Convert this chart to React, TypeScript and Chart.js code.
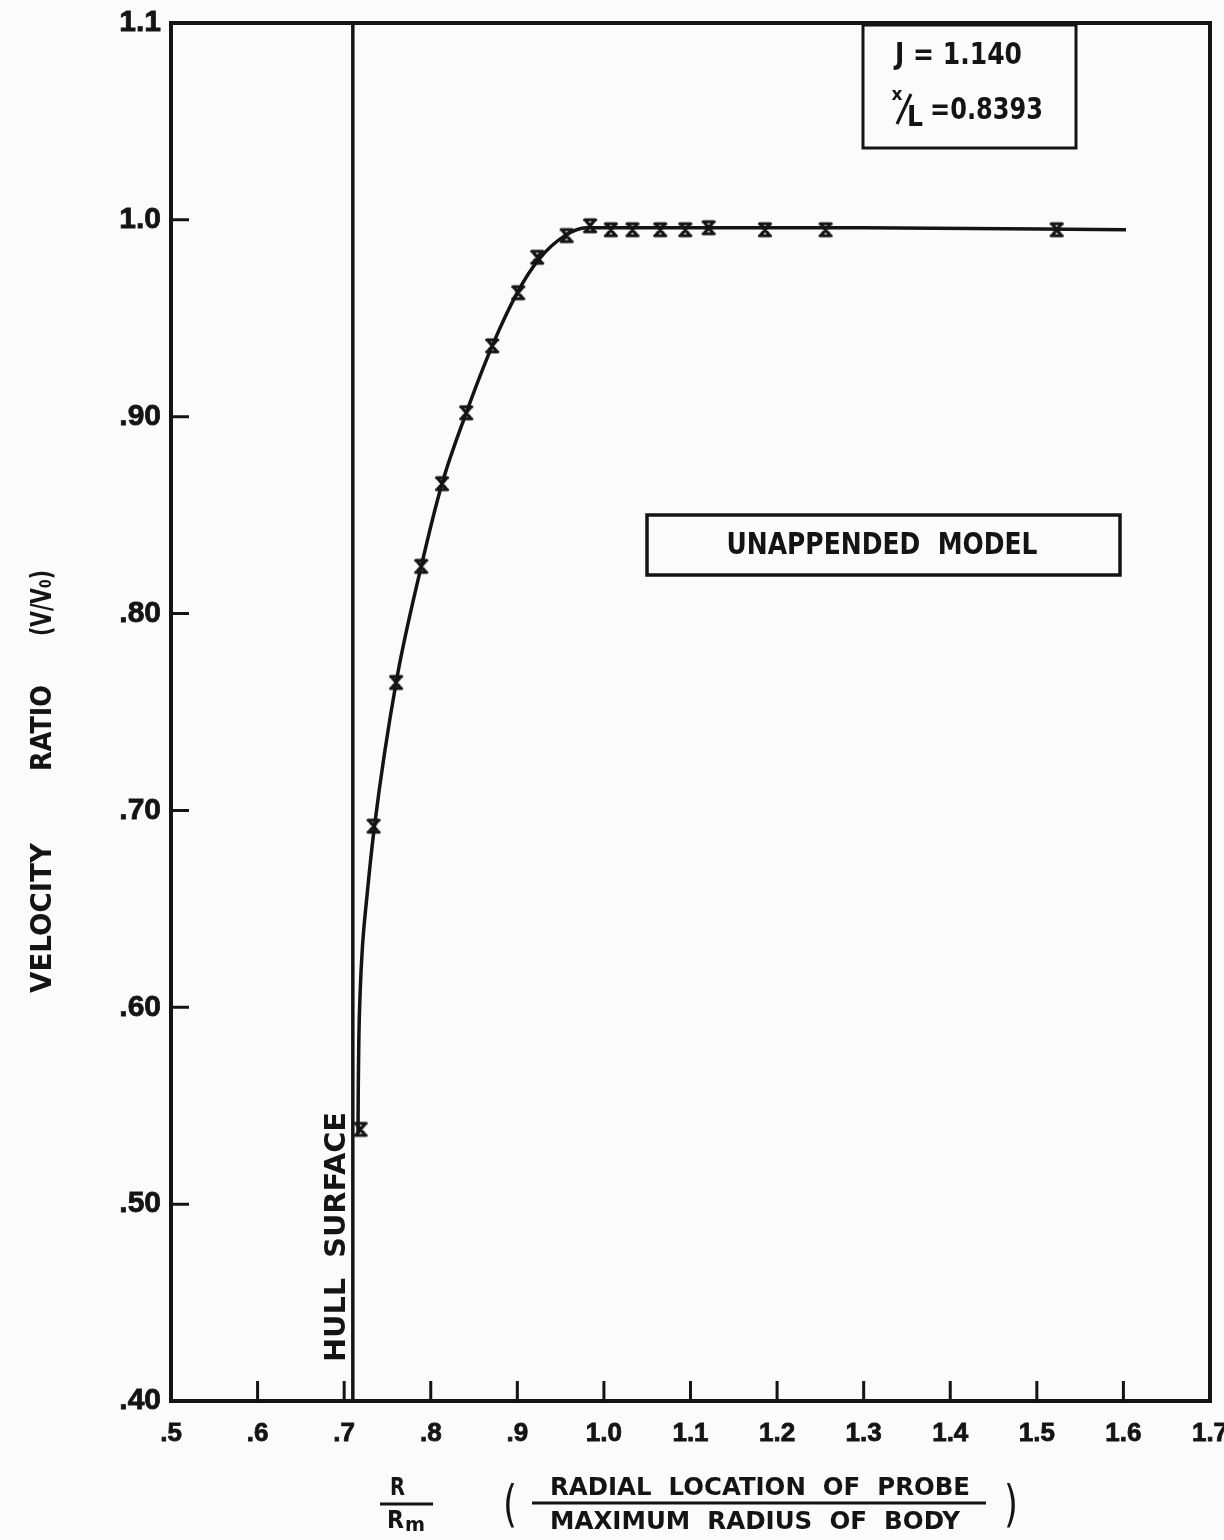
import React, { useEffect, useRef } from "react";
import { Chart, registerables } from "chart.js";

Chart.register(...registerables);

// ---- data ----
const xTickValues = [0.5, 0.6, 0.7, 0.8, 0.9, 1.0, 1.1, 1.2, 1.3, 1.4, 1.5, 1.6, 1.7];
const xTickLabels = [".5", ".6", ".7", ".8", ".9", "1.0", "1.1", "1.2", "1.3", "1.4", "1.5", "1.6", "1.7"];
const yTickValues = [0.4, 0.5, 0.6, 0.7, 0.8, 0.9, 1.0, 1.1];
const yTickLabels = [".40", ".50", ".60", ".70", ".80", ".90", "1.0", "1.1"];

// measured points (x markers)
const pointX = [0.719, 0.734, 0.760, 0.789, 0.813, 0.841, 0.871, 0.901, 0.923, 0.957, 0.984, 1.008, 1.033, 1.065, 1.094, 1.121, 1.186, 1.256, 1.523];
const pointY = [0.538, 0.692, 0.765, 0.824, 0.866, 0.902, 0.936, 0.963, 0.981, 0.992, 0.997, 0.995, 0.995, 0.995, 0.995, 0.996, 0.995, 0.995, 0.995];

// faired curve
const curveX = [0.7160, 0.7163, 0.7170, 0.7185, 0.7210, 0.7260, 0.7350, 0.7600, 0.7890, 0.8130, 0.8410, 0.8710, 0.9000, 0.9250, 0.9550, 0.9800, 1.0100, 1.1000, 1.3000, 1.6030];
const curveY = [0.536, 0.560, 0.585, 0.608, 0.630, 0.655, 0.692, 0.765, 0.824, 0.866, 0.902, 0.936, 0.963, 0.980, 0.992, 0.996, 0.996, 0.996, 0.996, 0.995];

const hullX = 0.710;
const yMin = 0.4;
const yMax = 1.1;

const INK = "#141414";
const BG = "#fbfbfb";
const FONT = "'DejaVu Sans', 'Liberation Sans', sans-serif";
const TICK_FONT = "'Liberation Sans', 'DejaVu Sans', sans-serif";

function fitText(ctx: CanvasRenderingContext2D, text: string, x: number, y: number, width: number, font: string, align: CanvasTextAlign) {
  ctx.save();
  ctx.font = font;
  const w = ctx.measureText(text).width;
  ctx.translate(x, y);
  ctx.scale(width / w, 1);
  ctx.textAlign = align;
  ctx.textBaseline = "middle";
  ctx.fillText(text, 0, 0);
  ctx.restore();
}

function rotText(ctx: CanvasRenderingContext2D, text: string, cx: number, cy: number, length: number, font: string) {
  ctx.save();
  ctx.translate(cx, cy);
  ctx.rotate(-Math.PI / 2);
  fitText(ctx, text, 0, 0, length, font, "center");
  ctx.restore();
}

function makeMarker(): HTMLCanvasElement {
  const m = document.createElement("canvas");
  m.width = 18;
  m.height = 18;
  const c = m.getContext("2d")!;
  c.strokeStyle = INK;
  c.lineWidth = 3.2;
  c.lineCap = "round";
  c.beginPath();
  c.moveTo(4.5, 3.5);
  c.lineTo(13.5, 14.5);
  c.moveTo(13.5, 3.5);
  c.lineTo(4.5, 14.5);
  c.moveTo(3.5, 3);
  c.lineTo(14.5, 3);
  c.moveTo(3.5, 15);
  c.lineTo(14.5, 15);
  c.stroke();
  return m;
}

const decorPlugin = {
  id: "decor",
  beforeDraw(chart: any) {
    const ctx = chart.ctx as CanvasRenderingContext2D;
    ctx.save();
    ctx.fillStyle = BG;
    ctx.fillRect(0, 0, chart.width, chart.height);
    ctx.restore();
  },
  afterDraw(chart: any) {
    const ctx = chart.ctx as CanvasRenderingContext2D;
    const { left, right, top, bottom } = chart.chartArea;
    const xs = chart.scales.x;
    const ys = chart.scales.y;
    ctx.save();
    ctx.strokeStyle = INK;
    ctx.fillStyle = INK;

    // frame
    ctx.lineWidth = 4;
    ctx.strokeRect(left, top, right - left, bottom - top);

    // inward ticks
    ctx.lineWidth = 3;
    ctx.beginPath();
    xTickValues.slice(1, -1).forEach((v) => {
      const px = xs.getPixelForValue(v);
      ctx.moveTo(px, bottom);
      ctx.lineTo(px, bottom - 20);
    });
    yTickValues.slice(1, -1).forEach((v) => {
      const py = ys.getPixelForValue(v);
      ctx.moveTo(left, py);
      ctx.lineTo(left + 18, py);
    });
    ctx.stroke();

    // HULL SURFACE label
    rotText(ctx, "HULL  SURFACE", 338, 1237, 250, `bold 28px ${FONT}`);

    // Y axis title
    rotText(ctx, "VELOCITY", 43, 918, 150, `bold 29px ${FONT}`);
    rotText(ctx, "RATIO", 43, 728, 86, `bold 29px ${FONT}`);
    rotText(ctx, "(V/V\u2080)", 43, 603, 66, `bold 29px ${FONT}`);

    // J box
    ctx.lineWidth = 3;
    ctx.strokeRect(863, 25, 213, 123);
    fitText(ctx, "J = 1.140", 895, 56, 127, `bold 30px ${FONT}`, "left");
    ctx.font = `bold 17px ${FONT}`;
    ctx.textAlign = "center";
    ctx.textBaseline = "middle";
    ctx.fillText("x", 897, 96);
    ctx.lineWidth = 3;
    ctx.beginPath();
    ctx.moveTo(897, 124);
    ctx.lineTo(911, 94);
    ctx.stroke();
    fitText(ctx, "L", 907, 119, 16, `bold 28px ${FONT}`, "left");
    fitText(ctx, "=0.8393", 930, 111, 113, `bold 30px ${FONT}`, "left");

    // UNAPPENDED MODEL box
    ctx.lineWidth = 3.5;
    ctx.strokeRect(647, 515, 473, 60);
    fitText(ctx, "UNAPPENDED  MODEL", 882, 546, 311, `bold 30px ${FONT}`, "center");

    // X axis title: R / Rm
    fitText(ctx, "R", 390, 1489, 15, `bold 24px ${FONT}`, "left");
    ctx.lineWidth = 3;
    ctx.beginPath();
    ctx.moveTo(380, 1504);
    ctx.lineTo(433, 1504);
    ctx.stroke();
    fitText(ctx, "R", 387, 1522, 17, `bold 24px ${FONT}`, "left");
    fitText(ctx, "m", 405, 1526, 20, `bold 20px ${FONT}`, "left");

    // ( RADIAL LOCATION OF PROBE / MAXIMUM RADIUS OF BODY )
    fitText(ctx, "(", 503, 1508, 14, `50px ${FONT}`, "left");
    fitText(ctx, "RADIAL  LOCATION  OF  PROBE", 550, 1489, 420, `bold 24px ${FONT}`, "left");
    ctx.lineWidth = 3;
    ctx.beginPath();
    ctx.moveTo(532, 1503);
    ctx.lineTo(986, 1503);
    ctx.stroke();
    fitText(ctx, "MAXIMUM  RADIUS  OF  BODY", 550, 1523, 410, `bold 24px ${FONT}`, "left");
    fitText(ctx, ")", 1004, 1508, 14, `50px ${FONT}`, "left");

    ctx.restore();
  },
};

export default function App() {
  const ref = useRef<HTMLCanvasElement | null>(null);

  useEffect(() => {
    document.body.style.margin = "0";
    document.body.style.background = BG;
    const canvas = ref.current!;
    const marker = makeMarker();

    const chart = new Chart(canvas, {
      type: "line",
      data: {
        datasets: [
          {
            label: "curve",
            data: curveX.map((x, i) => ({ x, y: curveY[i] })),
            borderColor: INK,
            borderWidth: 3.5,
            pointRadius: 0,
            cubicInterpolationMode: "monotone",
            fill: false,
          },
          {
            label: "points",
            data: pointX.map((x, i) => ({ x, y: pointY[i] })),
            showLine: false,
            pointStyle: marker as any,
            pointRadius: 9,
            borderColor: INK,
            backgroundColor: INK,
          },
          {
            label: "hull",
            data: [
              { x: hullX, y: yMin },
              { x: hullX, y: yMax },
            ],
            borderColor: INK,
            borderWidth: 3.5,
            pointRadius: 0,
            tension: 0,
          },
        ],
      },
      options: {
        animation: false,
        responsive: false,
        devicePixelRatio: 1,
        layout: { padding: { left: 0, top: 23, right: 14, bottom: 0 } },
        plugins: { legend: { display: false }, tooltip: { enabled: false } },
        scales: {
          x: {
            type: "linear",
            min: xTickValues[0],
            max: xTickValues[xTickValues.length - 1],
            afterBuildTicks: (s: any) => {
              s.ticks = xTickValues.map((v) => ({ value: v }));
            },
            afterFit: (s: any) => {
              s.height = 139;
              s.paddingLeft = 0;
              s.paddingRight = 0;
            },
            grid: { display: false, drawTicks: false },
            border: { display: false },
            ticks: {
              autoSkip: false,
              maxRotation: 0,
              padding: 17,
              color: INK,
              textStrokeColor: INK,
              textStrokeWidth: 0.8,
              font: { family: TICK_FONT, size: 26, weight: "bold" },
              callback: (_v: any, i: number) => xTickLabels[i],
            },
          },
          y: {
            type: "linear",
            min: yMin,
            max: yMax,
            afterBuildTicks: (s: any) => {
              s.ticks = yTickValues.map((v) => ({ value: v }));
            },
            afterFit: (s: any) => {
              s.width = 171;
              s.paddingTop = 0;
              s.paddingBottom = 0;
            },
            grid: { display: false, drawTicks: false },
            border: { display: false },
            ticks: {
              autoSkip: false,
              padding: 10,
              color: INK,
              textStrokeColor: INK,
              textStrokeWidth: 0.8,
              font: { family: TICK_FONT, size: 30, weight: "bold" },
              callback: (_v: any, i: number) => yTickLabels[i],
            },
          },
        },
      },
      plugins: [decorPlugin],
    });

    return () => chart.destroy();
  }, []);

  return (
    <div style={{ width: 1224, height: 1540 }}>
      <canvas ref={ref} width={1224} height={1540} style={{ display: "block" }} />
    </div>
  );
}
